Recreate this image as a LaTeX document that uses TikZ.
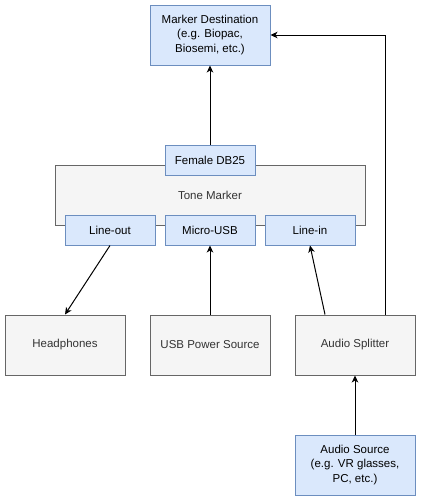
\documentclass[tikz,border=0pt]{standalone}
\usepackage{fontspec}
\setmainfont{Liberation Sans}
\usetikzlibrary{arrows.meta,calc}
\definecolor{bfill}{HTML}{DAE8FC}
\definecolor{bline}{HTML}{6C8EBF}
\definecolor{gfill}{HTML}{F5F5F5}
\definecolor{gline}{HTML}{666666}
\definecolor{gtext}{HTML}{333333}
\begin{document}
\begin{tikzpicture}[x=1pt,y=-1pt,
  every node/.style={font=\fontsize{11.5}{14.5}\selectfont, inner sep=0pt, align=center},
  bluebox/.style={draw=bline, fill=bfill, line width=1pt},
  graybox/.style={draw=gline, fill=gfill, line width=1pt, text=gtext},
  conn/.style={line width=1pt, -{Stealth[length=7pt,width=6.5pt,inset=2pt]}}]
\useasboundingbox (0,0) rectangle (421,501);
% nodes
\node[bluebox, minimum width=120pt, minimum height=60pt] (dest) at (210,35) {Marker Destination\\(e.g. Biopac,\\Biosemi, etc.)};
\node[graybox, minimum width=310pt, minimum height=60pt] (tone) at (210,195) {Tone Marker};
\node[bluebox, minimum width=90pt, minimum height=30pt] (db25) at (210,160) {Female DB25};
\node[bluebox, minimum width=90pt, minimum height=30pt] (lineout) at (110,230) {Line-out};
\node[bluebox, minimum width=90pt, minimum height=30pt] (usb) at (210,230) {Micro-USB};
\node[bluebox, minimum width=90pt, minimum height=30pt] (linein) at (310,230) {Line-in};
\node[graybox, minimum width=120pt, minimum height=60pt] (head) at (65,345) {Headphones};
\node[graybox, minimum width=120pt, minimum height=60pt] (power) at (210,345) {USB Power Source};
\node[graybox, minimum width=120pt, minimum height=60pt] (split) at (355,345) {Audio Splitter};
\node[bluebox, minimum width=120pt, minimum height=60pt] (src) at (355,465) {Audio Source\\(e.g. VR glasses,\\PC, etc.)};
\coordinate (splitL) at ($(split.north)+(-30,0)$);
\coordinate (splitR) at ($(split.north)+(30,0)$);
% connectors
\draw[conn] (db25.north) -- (dest.south);
\draw[conn] (lineout.south) -- (head.north);
\draw[conn] (power.north) -- (usb.south);
\draw[conn] (splitL) -- (linein.south);
\draw[conn] (splitR) |- (dest.east);
\draw[conn] (src.north) -- (split.south);
\end{tikzpicture}
\end{document}
